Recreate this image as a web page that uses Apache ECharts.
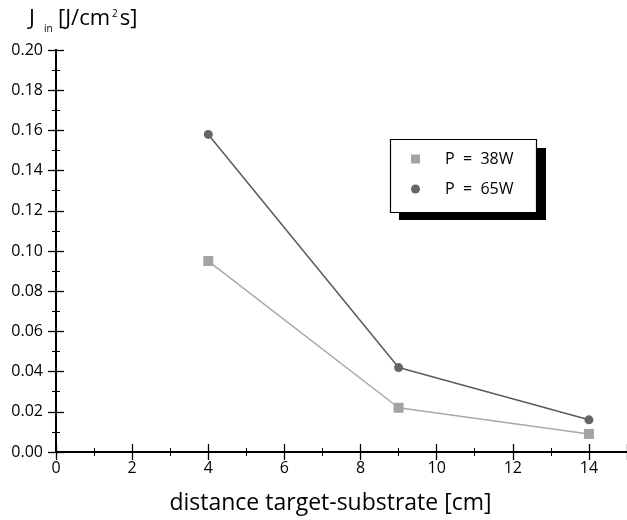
<!DOCTYPE html>
<html><head><meta charset="utf-8">
<script src="https://cdn.jsdelivr.net/npm/echarts@6/dist/echarts.min.js"></script>
<style>html,body{margin:0;padding:0;background:#fff}#c{width:627px;height:520px}</style>
</head><body><div id="c"></div>
<script>
const distance = [4, 9, 14];
const p38 = [0.095, 0.022, 0.009];
const p65 = [0.158, 0.042, 0.016];
const seriesNames = ['P  =  38W', 'P  =  65W'];
const xName = 'distance target-substrate [cm]';

const FONT = 'Open Sans';
const chart = echarts.init(document.getElementById('c'));

const cv = document.createElement('canvas').getContext('2d');
function tw(t, size) { cv.font = size + 'px "' + FONT + '"'; return cv.measureText(t).width; }
function txt(t, x, y, size) {
  return {type: 'text', x: x, y: y, style: {text: t, fontSize: size, fontFamily: FONT, fill: '#000'}};
}

const T = 22, S = 10, P = 10;
const titleParts = [];
titleParts.push(txt('J', 29, 8, T));
titleParts.push(txt('in', 44, 24, S));
let x = 58;
titleParts.push(txt('[J/cm', x, 8, T));
x += tw('[J/cm', T) + 2;
titleParts.push(txt('2', x, 9, P));
x += tw('2', P) + 2;
titleParts.push(txt('s]', x, 8, T));

const axisCommon = {
  axisLine: {show: true, lineStyle: {color: '#000', width: 2}},
  axisTick: {show: true, inside: true, length: 8, lineStyle: {color: '#000', width: 1.3}},
  minorTick: {show: true, splitNumber: 2, length: 4, lineStyle: {color: '#000', width: 1}},
  splitLine: {show: false}
};
chart.setOption({
  animation: false,
  textStyle: {fontFamily: FONT},
  graphic: titleParts.concat([
    {type: 'rect', shape: {x: 399, y: 148, width: 147, height: 72}, style: {fill: '#000'}, z: 10},
    {type: 'rect', shape: {x: 390.5, y: 139.5, width: 146, height: 73}, style: {fill: '#fff', stroke: '#000', lineWidth: 1.2}, z: 11}
  ]),
  legend: {
    orient: 'vertical', left: 406, top: 146, z: 20,
    itemGap: 14, itemWidth: 9, itemHeight: 9,
    textStyle: {fontSize: 16, fontFamily: FONT, color: '#000', padding: [0,0,0,20]},
    data: [{name: seriesNames[0], icon: 'rect'}, {name: seriesNames[1], icon: 'circle'}]
  },
  grid: {left: 56, top: 50, right: -4, bottom: 64},
  xAxis: [
    Object.assign({type: 'value', min: 0, max: 15, interval: 2, position: 'bottom',
      name: xName, nameLocation: 'middle', nameGap: 40,
      nameTextStyle: {fontSize: 23, fontFamily: FONT, color: '#000', padding: [0, 22, 0, 0]},
      axisLabel: {fontSize: 16, color: '#000', fontFamily: FONT, margin: 8, showMaxLabel: false,
        formatter: v => (v % 2 === 0 && v <= 14) ? String(v) : ''}}, axisCommon),
    Object.assign({type: 'value', min: 0, max: 15, interval: 2, position: 'top',
      axisLabel: {show: false}}, axisCommon)
  ],
  yAxis: [
    Object.assign({type: 'value', min: 0, max: 0.2, interval: 0.02, position: 'left',
      axisLabel: {fontSize: 16, color: '#000', fontFamily: FONT, margin: 13,
        formatter: v => v.toFixed(2)}}, axisCommon),
    Object.assign({type: 'value', min: 0, max: 0.2, interval: 0.02, position: 'right',
      axisLabel: {show: false}}, axisCommon)
  ],
  series: [
    {name: seriesNames[0], type: 'line', data: distance.map((d, i) => [d, p38[i]]),
      symbol: 'rect', symbolSize: 10, itemStyle: {color: '#a3a3a3'},
      lineStyle: {color: '#a8a8a8', width: 1.5}},
    {name: seriesNames[1], type: 'line', data: distance.map((d, i) => [d, p65[i]]),
      symbol: 'circle', symbolSize: 9, itemStyle: {color: '#666666'},
      lineStyle: {color: '#5a5a5a', width: 1.5}}
  ]
});
</script></body></html>
